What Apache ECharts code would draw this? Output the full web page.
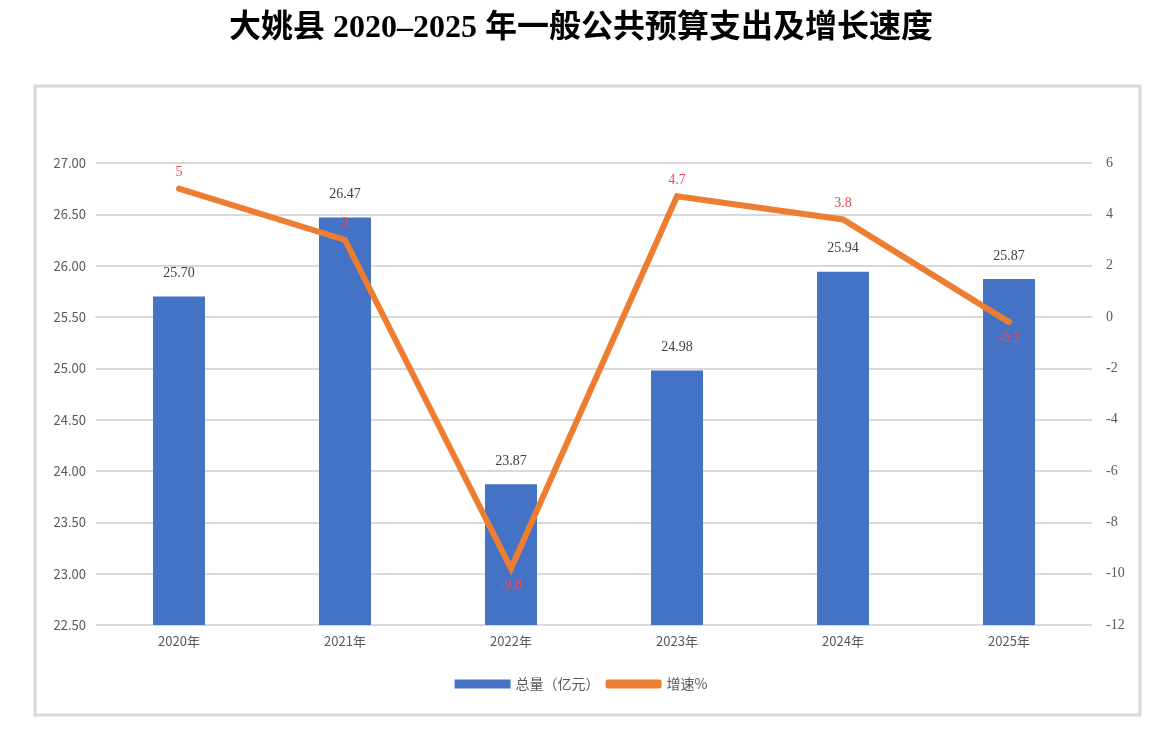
<!DOCTYPE html>
<html>
<head>
<meta charset="utf-8">
<script src="https://cdn.jsdelivr.net/npm/echarts@6/dist/echarts.min.js"></script>
<style>
html,body{margin:0;padding:0;background:#fff;}
#main{width:1162px;height:736px;}
</style>
</head>
<body>
<div id="main"></div>
<script>
var years = ['2020年', '2021年', '2022年', '2023年', '2024年', '2025年'];
var totals = [25.70, 26.47, 23.87, 24.98, 25.94, 25.87];
var growth = [5, 3, -9.8, 4.7, 3.8, -0.2];

var chart = echarts.init(document.getElementById('main'));
var serif = '"Liberation Serif", "Noto Sans CJK SC", serif';
var sans = '"Noto Sans CJK SC", "Noto Sans", sans-serif';

var option = {
    backgroundColor: '#fff',
    title: {
        text: '大姚县 2020–2025 年一般公共预算支出及增长速度',
        left: 'center',
        top: 8,
        textStyle: {
            fontFamily: serif,
            fontWeight: 'bold',
            fontSize: 32,
            color: '#000'
        }
    },
    graphic: [{
        type: 'rect',
        shape: { x: 35, y: 86, width: 1105, height: 629 },
        style: { fill: '#fff', stroke: '#d9d9d9', lineWidth: 3 },
        z: -10
    }],
    legend: {
        bottom: 40,
        left: 'center',
        itemGap: 6,
        itemWidth: 56,
        itemHeight: 9,
        textStyle: { fontFamily: sans, fontSize: 14, color: '#595959' },
        data: [
            { name: '总量（亿元）', icon: 'rect' },
            { name: '增速%', icon: 'roundRect' }
        ]
    },
    grid: {
        left: 96,
        right: 70,
        top: 163,
        bottom: 111
    },
    xAxis: {
        type: 'category',
        data: years,
        axisLine: { lineStyle: { color: '#d9d9d9', width: 2 } },
        axisTick: { show: false },
        axisLabel: { fontFamily: sans, fontSize: 13, color: '#595959', margin: 10 }
    },
    yAxis: [{
        type: 'value',
        min: 22.5,
        max: 27,
        interval: 0.5,
        axisLine: { show: false },
        axisTick: { show: false },
        splitLine: { lineStyle: { color: '#d9d9d9', width: 2 } },
        axisLabel: {
            fontFamily: sans, fontSize: 13, color: '#595959', margin: 10,
            formatter: function (v) { return v.toFixed(2); }
        }
    }, {
        type: 'value',
        min: -12,
        max: 6,
        interval: 2,
        axisLine: { show: false },
        axisTick: { show: false },
        splitLine: { show: false },
        axisLabel: { fontFamily: serif, fontSize: 14, color: '#595959', margin: 14 }
    }],
    series: [{
        name: '总量（亿元）',
        type: 'bar',
        data: totals,
        barWidth: 52,
        itemStyle: { color: '#4472c4' },
        label: {
            show: true,
            position: 'top',
            distance: 16,
            fontFamily: serif,
            fontSize: 14,
            color: '#404040',
            formatter: function (p) { return p.value.toFixed(2); }
        }
    }, {
        name: '增速%',
        type: 'line',
        yAxisIndex: 1,
        data: growth.map(function (v) {
            return { value: v, label: { position: v < 0 ? 'bottom' : 'top' } };
        }),
        symbol: 'circle',
        symbolSize: 1,
        showAllSymbol: true,
        lineStyle: { color: '#ed7d31', width: 6, cap: 'round', join: 'miter' },
        itemStyle: { color: '#ed7d31' },
        label: {
            show: true,
            distance: 9,
            fontFamily: serif,
            fontSize: 14,
            color: '#ec4a58'
        },
        z: 5
    }]
};

chart.setOption(option);
window.addEventListener('resize', chart.resize);
</script>
</body>
</html>
